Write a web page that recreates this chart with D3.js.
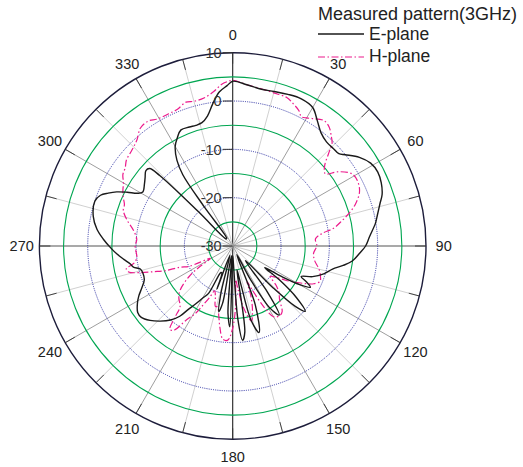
<!DOCTYPE html>
<html>
<head>
<meta charset="utf-8">
<script src="https://cdn.jsdelivr.net/npm/d3@7"></script>
<style>
  body { margin: 0; background: #fff; }
  svg text { font-family: "Liberation Sans", Arial, sans-serif; }
</style>
</head>
<body>
<script>
// angle (deg) and gain (dB)
var eAngles = [0,5,10,15,20,25,30,34,38,42,46,49,51,55,59,63,67,71,74,78,81,86,90,93,97,100,103,107,111,114,116,118,120,122,124,126,129,132,134,136,139,143,146,149,152,155,159,163,166,168,170,172,174,176,178,180,182,184,187,190,192,194,197,200,202,204,207,210,213,215,217,220,224,228,232,235,239,242,245,249,253,256,258,260,263,266,269,273,277,282,288,291,293,295,297,299,301,305,308,311,313,314,315,317,322,324,325,327,330,333,336,340,343,346,349,352,355,358];
var eGain   = [4.1,3.5,3.0,3.1,3.4,3.6,3.1,1.3,-0.3,-1.0,-1.0,-0.9,0,2.0,3.3,3.7,3.4,2.7,1.7,0.6,-0.1,-1.6,-2.5,-3.6,-5.0,-6.8,-8.8,-10.3,-12.3,-14.5,-13,-11.8,-14,-18,-22,-18,-13,-9.8,-12,-18,-26,-18,-12.8,-15,-22,-28,-17,-11.3,-14,-22,-25,-12,-10.4,-15,-27,-28,-13.3,-16,-28,-18,-16.1,-20,-28,-20.5,-24,-24,-19,-17.5,-15.5,-14,-11.8,-10,-8.4,-7,-6,-6,-7,-8,-9.2,-10.4,-10.6,-10.3,-9,-8.5,-7.3,-6,-4.8,-3.2,-1.7,-0.5,0,-0.7,-2,-3.5,-5.5,-7.5,-8.3,-7.7,-7,-6.2,-6.5,-9,-20,-28,-28,-20,-12,-8.8,-6.2,-4.8,-3.7,-3.8,-3.9,-3.7,-2.6,-0.3,2.0,3.2];

var hAngles = [0,5,10,15,20,23,26,28,30,32,36,39,42,44,46,49,52,55,59,63,67,71,74,77,80,82,85,90,95,100,105,109,112,115,117,120,123,126,129,132,135,139,143,146,150,153,156,158,160,163,166,170,173,175,177,180,183,186,189,191,194,196,199,202,204,207,209,212,215,217,219,221,226,230,235,238,241,245,248,250,252,254,256,258,260,263,266,270,274,279,284,288,291,294,297,300,303,306,309,312,315,318,322,326,329,332,335,338,342,345,349,353,356,358];
var hGain   = [4.3,3.5,3.1,2.8,2.7,2.0,1.2,0.3,0.6,1.1,2.1,1.7,0.5,-0.4,-2.4,-4.8,-5.7,-3.2,-1.1,-0.9,-1.5,-3.1,-4.8,-6.8,-8.8,-11.3,-12.8,-12.6,-13.2,-12.8,-11.5,-10.8,-10.5,-11.5,-12.8,-15,-17,-19,-20,-18,-16.5,-15.2,-13,-12.6,-13.1,-16,-20,-22,-19,-16,-14,-17,-21,-23,-18,-13,-10.5,-10.6,-13,-15,-17,-17,-19,-20,-18.5,-16,-14,-12,-8.7,-8.4,-11,-13.4,-14.5,-15.8,-19,-22,-24.7,-20,-18.3,-15,-12.8,-10,-7.8,-7.5,-9.2,-10,-10,-9.8,-10.1,-9.2,-7.4,-6.2,-6.0,-5.2,-4.5,-3.9,-2.9,-2.5,-1.7,-1.4,-1.0,-0.4,1.0,1.2,0.6,0.4,0.4,0.5,1.3,1.0,1.2,2.2,3.5,4.0];

var ringLevels = [-25,-20,-15,-10,-5,0,5];
var ringLabels = [-30,-20,-10,0,10];
var angleLabels = [0,30,60,90,120,150,180,210,240,270,300,330];
var legendTitle = "Measured pattern(3GHz)";
var seriesNames = ["E-plane", "H-plane"];

var width = 523, height = 467;
var cx = 232.7, cy = 246, R = 193.3;

var svg = d3.select("body").append("svg")
    .attr("width", width)
    .attr("height", height);

var g = svg.append("g")
    .attr("transform", "translate(" + cx + "," + cy + ")");

var r = d3.scaleLinear().domain([-30, 10]).range([0, R]).clamp(true);
var rad = function(d) { return d * Math.PI / 180; };

// spokes every 15 degrees
var spokes = d3.range(0, 360, 15);
g.selectAll(".spoke")
    .data(spokes)
    .enter().append("line")
    .attr("x1", 0).attr("y1", 0)
    .attr("x2", function(d) { return R * Math.sin(rad(d)); })
    .attr("y2", function(d) { return -R * Math.cos(rad(d)); })
    .attr("stroke", function(d) {
        if (d % 180 == 0) return "#222";
        if (d % 90 == 0) return "#555";
        return d % 30 == 0 ? "#858585" : "#c4c4c4";
    })
    .attr("stroke-width", function(d) { return d % 90 == 0 ? 1.1 : 0.8; });

// rings: green solid at odd 5s, blue dotted at tens
g.selectAll(".ring")
    .data(ringLevels)
    .enter().append("circle")
    .attr("r", function(d) { return r(d); })
    .attr("fill", "none")
    .attr("stroke", function(d) { return d % 10 == 0 ? "#2b2fa3" : "#00a651"; })
    .attr("stroke-width", function(d) { return d % 10 == 0 ? 1 : 1.1; })
    .attr("stroke-dasharray", function(d) { return d % 10 == 0 ? "1,1.2" : null; });

// outer circle
g.append("circle")
    .attr("r", R)
    .attr("fill", "none")
    .attr("stroke", "#1d1d3b")
    .attr("stroke-width", 1.4);

// short ticks at the rim
g.selectAll(".rimtick")
    .data(spokes)
    .enter().append("line")
    .attr("x1", function(d) { return (R - 11) * Math.sin(rad(d)); })
    .attr("y1", function(d) { return -(R - 11) * Math.cos(rad(d)); })
    .attr("x2", function(d) { return R * Math.sin(rad(d)); })
    .attr("y2", function(d) { return -R * Math.cos(rad(d)); })
    .attr("stroke", "#333")
    .attr("stroke-width", 0.9);

// angle labels
g.selectAll(".alabel")
    .data(angleLabels)
    .enter().append("text")
    .attr("x", function(d) { return 211 * Math.sin(rad(d)); })
    .attr("y", function(d) { return -211 * Math.cos(rad(d)); })
    .attr("dy", "0.36em")
    .attr("text-anchor", "middle")
    .attr("font-size", 14.5)
    .attr("fill", "#222")
    .text(function(d) { return d; });

// pattern curves
var line = d3.lineRadial()
    .angle(function(d) { return rad(d[0]); })
    .radius(function(d) { return r(d[1]); })
    .curve(d3.curveCatmullRomClosed.alpha(0.5));

var eData = d3.zip(eAngles, eGain);
var hData = d3.zip(hAngles, hGain);

g.append("path")
    .datum(hData)
    .attr("d", line)
    .attr("fill", "none")
    .attr("stroke", "#ec1a8c")
    .attr("stroke-width", 1.2)
    .attr("stroke-dasharray", "7,2.5,1.5,2.5");

g.append("path")
    .datum(eData)
    .attr("d", line)
    .attr("fill", "none")
    .attr("stroke", "#1a1a1a")
    .attr("stroke-width", 1.4);

// radial level labels with ticks left of the vertical axis
g.selectAll(".rtick")
    .data(ringLabels)
    .enter().append("line")
    .attr("x1", -10).attr("x2", 0)
    .attr("y1", function(d) { return -r(d); })
    .attr("y2", function(d) { return -r(d); })
    .attr("stroke", "#333")
    .attr("stroke-width", 1);

g.selectAll(".rlabel")
    .data(ringLabels)
    .enter().append("text")
    .attr("x", -11)
    .attr("y", function(d) { return -r(d); })
    .attr("dy", "0.36em")
    .attr("text-anchor", "end")
    .attr("font-size", 14.5)
    .attr("fill", "#333")
    .text(function(d) { return d; });

// legend
var leg = svg.append("g");
leg.append("text")
    .attr("x", 318).attr("y", 20)
    .attr("font-size", 18)
    .attr("fill", "#222")
    .text(legendTitle);

leg.append("line")
    .attr("x1", 318).attr("x2", 364)
    .attr("y1", 34).attr("y2", 34)
    .attr("stroke", "#1a1a1a").attr("stroke-width", 1.4);
leg.append("text")
    .attr("x", 369).attr("y", 40)
    .attr("font-size", 17.5).attr("fill", "#222")
    .text(seriesNames[0]);

leg.append("line")
    .attr("x1", 318).attr("x2", 364)
    .attr("y1", 57).attr("y2", 57)
    .attr("stroke", "#ec1a8c").attr("stroke-width", 1.2)
    .attr("stroke-dasharray", "7,2.5,1.5,2.5");
leg.append("text")
    .attr("x", 369).attr("y", 62)
    .attr("font-size", 17.5).attr("fill", "#222")
    .text(seriesNames[1]);
</script>
</body>
</html>
